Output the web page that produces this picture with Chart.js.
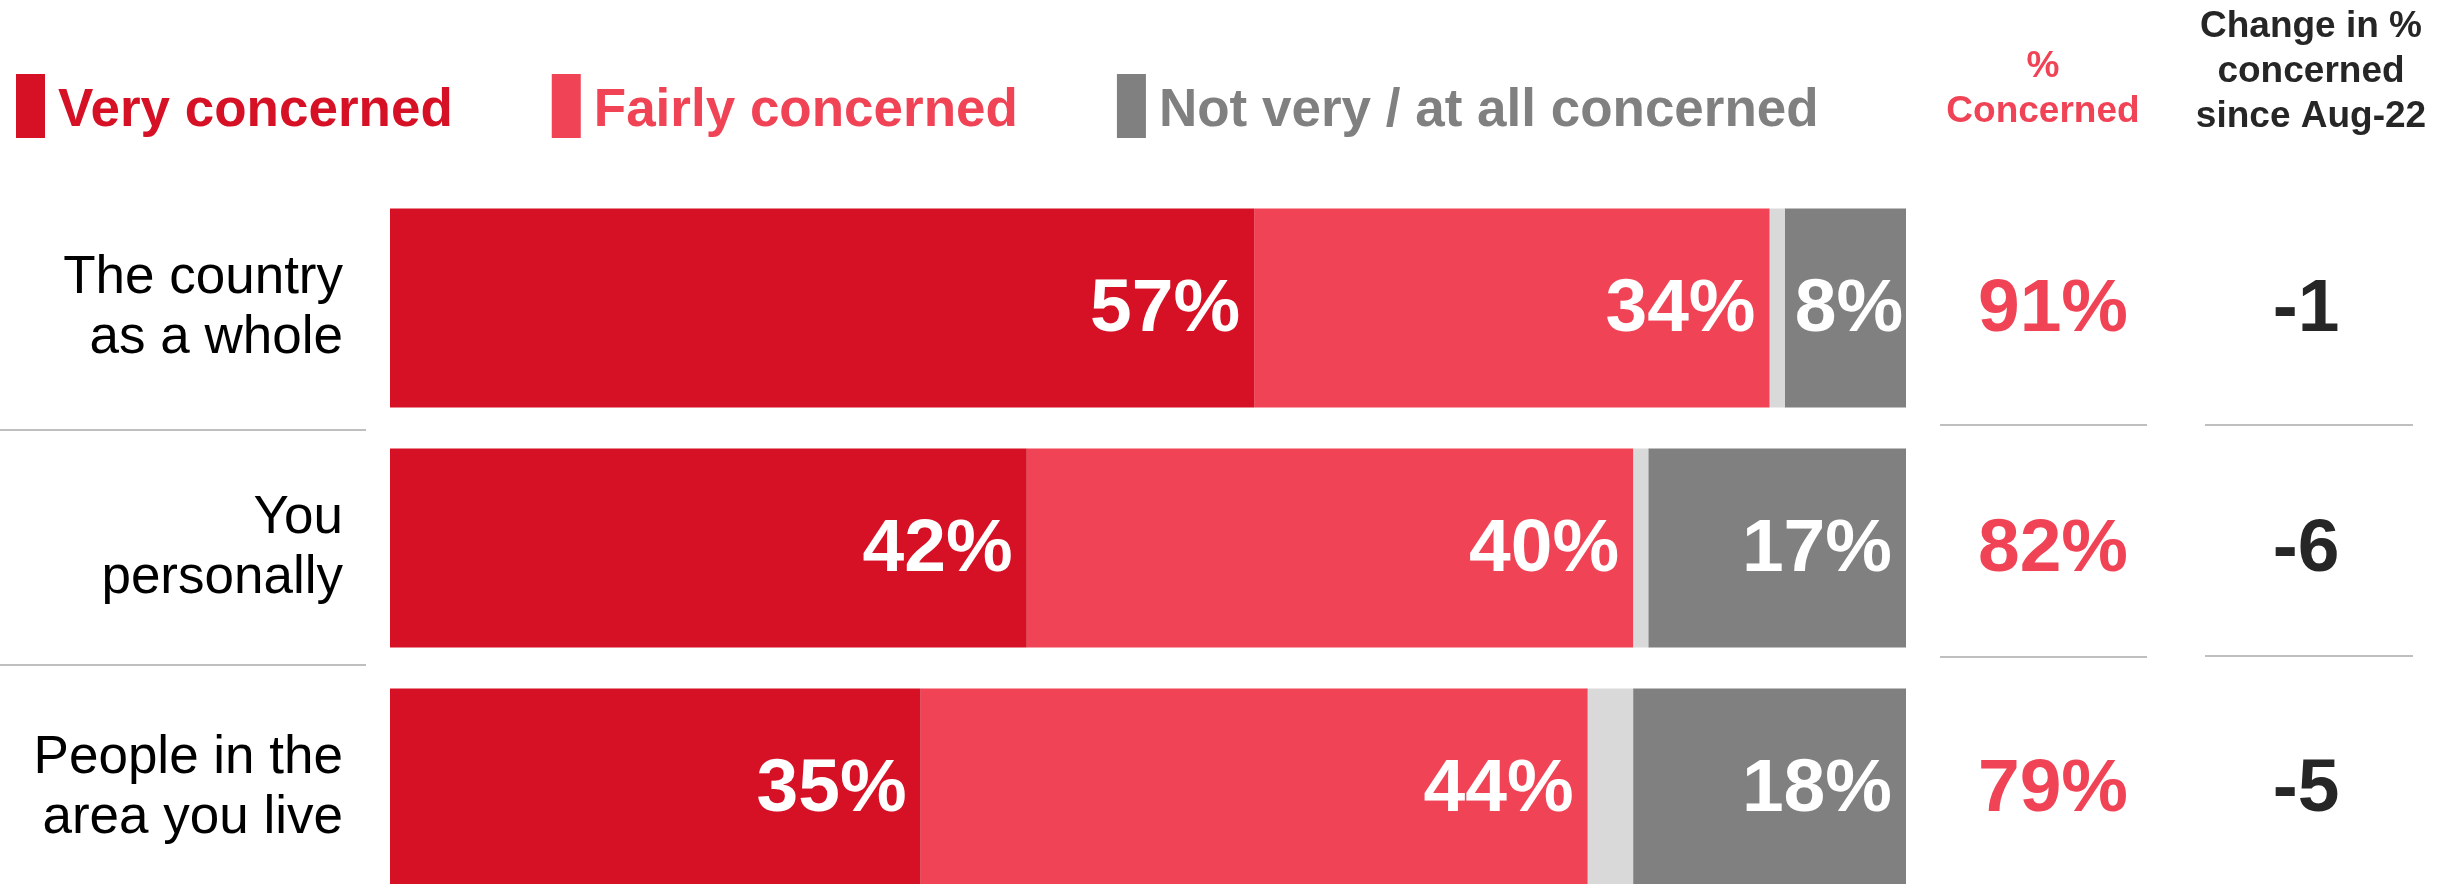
<!DOCTYPE html>
<html>
<head>
<meta charset="utf-8">
<script src="https://cdn.jsdelivr.net/npm/chart.js@4.4.0/dist/chart.umd.min.js"></script>
<style>
  html, body { margin: 0; padding: 0; background: #fff; }
  #wrap { width: 2450px; height: 884px; overflow: hidden; }
  #wrap canvas { display: block; }
</style>
</head>
<body>
<div id="wrap"><canvas id="concernChart" width="2450" height="908"></canvas></div>
<script>
const categories = [["The country", "as a whole"], ["You", "personally"], ["People in the", "area you live"]];
const seriesNames = ["Very concerned", "Fairly concerned", "Don't know", "Not very / at all concerned"];
const veryConcerned = [57, 42, 35];
const fairlyConcerned = [34, 40, 44];
const dontKnow = [1, 1, 3];
const notConcerned = [8, 17, 18];
const pctConcerned = [91, 82, 79];
const changeSinceAug22 = [-1, -6, -5];

const FONT = '"Liberation Sans", Arial, sans-serif';
const RED = "#D61125";
const PINK = "#F04355";
const GREY = "#808080";
const LIGHT = "#D9D9D9";
const DARK = "#262626";

// legend, side columns, separators and bar labels
const overlay = {
    id: "overlay",
    afterDatasetsDraw(chart) {
        const ctx = chart.ctx;
        const y = chart.scales.y;
        ctx.save();

        // labels inside bars
        ctx.font = "bold 75px " + FONT;
        ctx.fillStyle = "#fff";
        ctx.textAlign = "right";
        ctx.textBaseline = "middle";
        chart.data.datasets.forEach((ds, di) => {
            if (ds.noLabel) return;
            chart.getDatasetMeta(di).data.forEach((bar, i) => {
                const txt = ds.data[i] + "%";
                const tw = ctx.measureText(txt).width;
                let right = bar.x - 14;
                if (right - tw < bar.base + 10) right = Math.min(bar.x - 2, bar.base + 10 + tw);
                ctx.fillText(txt, right, bar.y + 2);
            });
        });

        // legend
        ctx.font = "bold 53px " + FONT;
        ctx.textAlign = "left";
        ctx.textBaseline = "alphabetic";
        let lx = 16;
        chart.data.datasets.forEach(ds => {
            if (ds.noLegend) return;
            ctx.fillStyle = ds.backgroundColor;
            ctx.fillRect(lx, 74, 29, 64);
            ctx.fillText(ds.label, lx + 42, 126);
            lx += 42 + ctx.measureText(ds.label).width + 99;
        });

        // column headers
        ctx.font = "bold 37px " + FONT;
        ctx.textAlign = "center";
        ctx.fillStyle = PINK;
        ["%", "Concerned"].forEach((t, i) => ctx.fillText(t, 2043, 77 + i * 45));
        ctx.fillStyle = DARK;
        ["Change in %", "concerned", "since Aug-22"].forEach((t, i) => ctx.fillText(t, 2311, 37 + i * 45));

        // column values
        ctx.font = "bold 75px " + FONT;
        ctx.textBaseline = "middle";
        categories.forEach((c, i) => {
            const py = y.getPixelForValue(i) + 2;
            ctx.fillStyle = PINK;
            ctx.fillText(pctConcerned[i] + "%", 2053, py);
            ctx.fillStyle = DARK;
            ctx.fillText(String(changeSinceAug22[i]), 2306, py);
        });

        // separators between rows
        ctx.fillStyle = "#BFBFBF";
        [0, 1].forEach(i => {
            const mid = (y.getPixelForValue(i) + y.getPixelForValue(i + 1)) / 2;
            ctx.fillRect(0, mid + [1, -4][i], 366, 2);
            ctx.fillRect(1940, mid + [-4, -12][i], 207, 2);
            ctx.fillRect(2205, mid + [-4, -13][i], 208, 2);
        });
        ctx.restore();
    }
};

new Chart(document.getElementById("concernChart"), {
    type: "bar",
    data: {
        labels: categories,
        datasets: [
            { label: seriesNames[0], data: veryConcerned, backgroundColor: RED },
            { label: seriesNames[1], data: fairlyConcerned, backgroundColor: PINK },
            { label: seriesNames[2], data: dontKnow, backgroundColor: LIGHT, noLabel: true, noLegend: true },
            { label: seriesNames[3], data: notConcerned, backgroundColor: GREY }
        ]
    },
    options: {
        indexAxis: "y",
        responsive: false,
        animation: false,
        layout: { padding: { top: 188, right: 544, bottom: 0, left: 0 } },
        datasets: { bar: { categoryPercentage: 1, barPercentage: 0.83, borderWidth: 0 } },
        plugins: {
            legend: { display: false },
            tooltip: { enabled: false }
        },
        scales: {
            x: { stacked: true, min: 0, max: 100, display: false },
            y: {
                stacked: true,
                grid: { display: false, drawTicks: false },
                border: { display: false },
                ticks: {
                    color: "#000",
                    padding: 47,
                    font: { family: FONT, size: 53, lineHeight: 60 / 53 }
                },
                afterFit: scale => {
                    scale.width = 390;
                    scale.paddingTop = 0;
                    scale.paddingBottom = 0;
                }
            }
        }
    },
    plugins: [overlay]
});
</script>
</body>
</html>
